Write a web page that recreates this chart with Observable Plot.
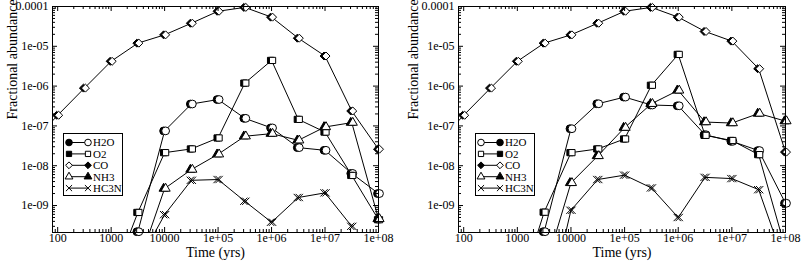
<!DOCTYPE html>
<html>
<head>
<meta charset="utf-8">
<script src="https://cdn.jsdelivr.net/npm/d3@7"></script>
<script src="https://cdn.jsdelivr.net/npm/@observablehq/plot@0.6"></script>
<style>
html,body{margin:0;padding:0;background:#fff;}
#wrap{display:flex;width:802px;height:262px;overflow:hidden;}
.panel{position:relative;height:262px;}
.panel svg{display:block;}
svg, svg text{font-family:"Liberation Serif","Times New Roman",Times,Tinos,"Nimbus Roman","FreeSerif","Noto Serif","DejaVu Serif",serif !important;}
</style>
</head>
<body>
<div id="wrap"></div>
<script>
const times = [31.62, 100, 316.2, 1000, 3162, 1e4, 3.162e4, 1e5, 3.162e5, 1e6, 3.162e6, 1e7, 3.162e7, 1e8];
const species = ["H2O", "O2", "CO", "NH3", "HC3N"];
const symbolNames = ["circle", "square", "diamond2", "triangle", "times"];

const leftH2O  = [null, null, null, null, 2.2e-10, 7.5e-8, 3.55e-7, 4.6e-7, 1.55e-7, 8.9e-8, 2.85e-8, 2.44e-8, 6.4e-9, 2.0e-9];
const leftO2   = [null, null, null, 1.2e-11, 6.7e-10, 2.13e-8, 2.64e-8, 4.98e-8, 1.19e-6, 4.42e-6, 1.46e-7, 7.0e-8, 5.7e-9, 4.4e-10];
const leftCO   = [3.5e-8, 1.85e-7, 8.9e-7, 4.2e-6, 1.2e-5, 1.94e-5, 3.8e-5, 7.6e-5, 9.5e-5, 5.4e-5, 1.6e-5, 5.7e-6, 2.37e-7, 2.6e-8];
const leftNH3  = [null, null, null, null, 3e-11, 2.67e-9, 8.0e-9, 1.94e-8, 5.5e-8, 6.4e-8, 4.35e-8, 9.4e-8, 1.21e-7, 4.6e-10];
const leftHC3N = [null, null, null, null, 3.5e-11, 5.9e-10, 4.3e-9, 4.5e-9, 1.28e-9, 3.8e-10, 1.59e-9, 2.08e-9, 3.0e-10, null];

const rightH2O  = [null, null, null, null, 2.2e-10, 8.5e-8, 3.6e-7, 5.3e-7, 3.35e-7, 3.2e-7, 6.0e-8, 4.1e-8, 2.4e-8, 1.14e-9];
const rightO2   = [null, null, null, 5e-12, 6.8e-10, 2.13e-8, 2.64e-8, 4.7e-8, 1.05e-6, 6.25e-6, 5.8e-8, 4.3e-8, 1.9e-8, 8e-11];
const rightCO   = [3.5e-8, 1.85e-7, 8.9e-7, 4.2e-6, 1.2e-5, 1.94e-5, 3.8e-5, 7.6e-5, 9.5e-5, 5.4e-5, 2.36e-5, 1.35e-5, 2.73e-6, 2.2e-8];
const rightNH3  = [null, null, null, null, 2.1e-11, 3.7e-9, 1.76e-8, 9.05e-8, 3.6e-7, 7.8e-7, 1.25e-7, 1.18e-7, 2.05e-7, 1.32e-7];
const rightHC3N = [null, null, null, null, 1e-12, 7.6e-10, 4.5e-9, 5.8e-9, 2.77e-9, 5.0e-10, 5.1e-9, 4.75e-9, 2.5e-9, 3e-11];

const xMajor = [100, 1e3, 1e4, 1e5, 1e6, 1e7, 1e8];
const xLabels = ["100", "1000", "10000", "1e+05", "1e+06", "1e+07", "1e+08"];
const yMajor = [1e-4, 1e-5, 1e-6, 1e-7, 1e-8, 1e-9];
const yLabels = ["0.0001", "1e-05", "1e-06", "1e-07", "1e-08", "1e-09"];
const xDomain = [80, 1e8];
const yDomain = [2.1e-10, 1e-4];

const font = "Liberation Serif, Times New Roman, serif";
const rBySpecies = [3.9, 3.5, 3.6, 3.4, 3.4];

function minorTicks([lo, hi]) {
  const out = [];
  for (let e = Math.floor(Math.log10(lo)); e < Math.ceil(Math.log10(hi)); e++)
    for (let m = 2; m <= 9; m++) {
      const v = m * Math.pow(10, e);
      if (v >= lo * 0.999 && v <= hi * 1.001) out.push(v);
    }
  return out;
}

function legendSvg(fills) {
  const W = 60, H = 63;
  const svg = d3.create("svg").attr("width", W).attr("height", H);
  svg.append("rect").attr("x", 0.5).attr("y", 0.5).attr("width", W - 1).attr("height", H - 1)
    .attr("fill", "#fff").attr("stroke", "#000");
  const symMap = {circle: d3.symbolCircle, square: d3.symbolSquare, diamond2: d3.symbolDiamond2, triangle: d3.symbolTriangle, times: d3.symbolTimes};
  species.forEach((s, k) => {
    const y = 9.5 + k * 11.4;
    const g = svg.append("g");
    g.append("line").attr("x1", 6).attr("x2", 25).attr("y1", y).attr("y2", y).attr("stroke", "#000");
    [6, 25].forEach((x, j) => {
      const r = rBySpecies[k] * 0.85;
      g.append("path").attr("d", d3.symbol(symMap[symbolNames[k]], Math.PI * r * r)())
        .attr("transform", `translate(${x},${y})`)
        .attr("fill", fills[k][j] === "f" ? "#000" : "#fff").attr("stroke", "#000");
    });
    g.append("text").attr("x", 30).attr("y", y).attr("dy", "0.35em")
      .attr("font-size", "11px").text(s);
  });
  return svg.node();
}

function drawPanel(cfg) {
  const {width, marginLeft, marginRight, series, legendX, legendFills, yLabelDx} = cfg;
  const marginTop = 6, marginBottom = 30, height = 262;
  const plotW = width - marginLeft - marginRight, plotH = height - marginTop - marginBottom;
  const rows = [];
  species.forEach((s, k) => series[k].forEach((v, i) => { if (v != null) rows.push({t: times[i], v, s, k}); }));
  const shown = rows.filter(d => d.v >= yDomain[0] && d.t >= xDomain[0]);
  const xMinor = minorTicks(xDomain), yMinor = minorTicks(yDomain);

  const marks = [
    Plot.line(rows, {x: "t", y: "v", z: "s", stroke: "#000", strokeWidth: 1, clip: true})
  ];
  species.forEach((s, k) => {
    const d = shown.filter(r => r.s === s);
    marks.push(Plot.dot(d, {x: "t", y: "v", symbol: symbolNames[k], r: rBySpecies[k], fill: "#000", stroke: "#000", strokeWidth: 1, dx: -1}));
    marks.push(Plot.dot(d, {x: "t", y: "v", symbol: symbolNames[k], r: rBySpecies[k], fill: "#fff", stroke: "#000", strokeWidth: 1, dx: 1}));
  });
  marks.push(
    Plot.frame({stroke: "#000"}),
    Plot.tickX(xMajor, {x: d => d, stroke: "#000", insetTop: plotH - 5}),
    Plot.tickX(xMajor, {x: d => d, stroke: "#000", insetBottom: plotH - 5}),
    Plot.tickX(xMinor, {x: d => d, stroke: "#000", insetTop: plotH - 3}),
    Plot.tickX(xMinor, {x: d => d, stroke: "#000", insetBottom: plotH - 3}),
    Plot.tickY(yMajor, {y: d => d, stroke: "#000", insetRight: plotW - 5}),
    Plot.tickY(yMajor, {y: d => d, stroke: "#000", insetLeft: plotW - 5}),
    Plot.tickY(yMinor, {y: d => d, stroke: "#000", insetRight: plotW - 3}),
    Plot.tickY(yMinor, {y: d => d, stroke: "#000", insetLeft: plotW - 3}),
    Plot.axisX({ticks: xMajor, tickSize: 0, tickPadding: 1, label: null, fontSize: 12,
      tickFormat: d => xLabels[xMajor.indexOf(d)]}),
    Plot.axisY({ticks: yMajor, tickSize: 0, tickPadding: 4, label: null, fontSize: 12,
      tickFormat: d => yLabels[yMajor.indexOf(d)]}),
    Plot.text(["Time (yrs)"], {frameAnchor: "bottom", dy: 24, fontSize: 14, fill: "#000"}),
    Plot.text(["Fractional abundance"], {frameAnchor: "left", dx: yLabelDx, rotate: -90, fontSize: 14, fill: "#000"})
  );

  const chart = Plot.plot({
    width, height, marginLeft, marginRight, marginTop, marginBottom,
    x: {type: "log", domain: xDomain},
    y: {type: "log", domain: yDomain},
    style: {fontFamily: font, fontSize: "12px", color: "#000", background: "#fff", overflow: "visible"},
    marks
  });
  const div = document.createElement("div");
  div.className = "panel";
  div.style.width = width + "px";
  div.appendChild(chart);
  const leg = legendSvg(legendFills);
  leg.style.position = "absolute";
  leg.style.left = legendX + "px";
  leg.style.top = "133px";
  div.appendChild(leg);
  document.getElementById("wrap").appendChild(div);
}

drawPanel({
  width: 400, marginLeft: 52, marginRight: 22,
  series: [leftH2O, leftO2, leftCO, leftNH3, leftHC3N],
  legendX: 63, yLabelDx: -40,
  legendFills: [["f", "o"], ["f", "o"], ["o", "f"], ["o", "f"], ["o", "o"]]
});
drawPanel({
  width: 402, marginLeft: 58, marginRight: 17,
  series: [rightH2O, rightO2, rightCO, rightNH3, rightHC3N],
  legendX: 75, yLabelDx: -45,
  legendFills: [["o", "f"], ["o", "f"], ["f", "o"], ["o", "f"], ["o", "o"]]
});
</script>
</body>
</html>
